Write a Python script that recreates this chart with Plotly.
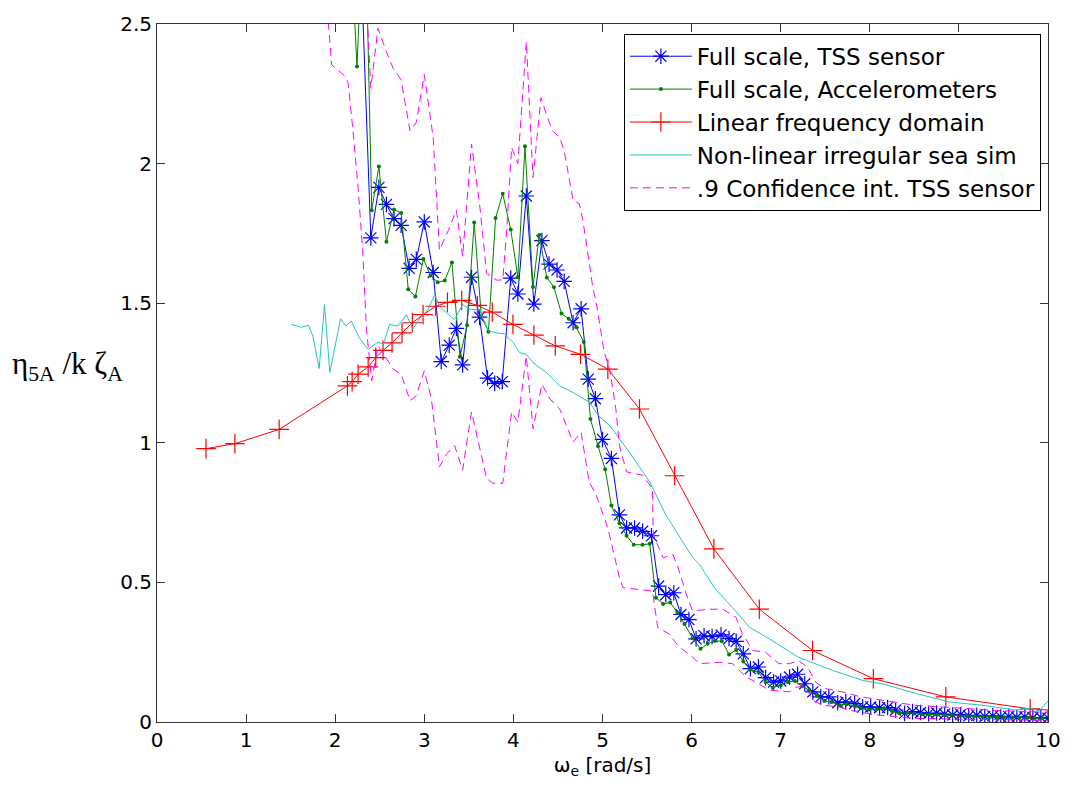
import plotly.graph_objects as go

# ---------------- data ----------------
tss_x = [2.14, 2.22, 2.30, 2.40, 2.49, 2.575, 2.66, 2.74, 2.83, 2.91, 3.00, 3.10, 3.19, 3.28, 3.36,
         3.43, 3.53, 3.62, 3.71, 3.79, 3.875, 3.97, 4.05, 4.145, 4.23, 4.32, 4.40, 4.49, 4.57, 4.67,
         4.76, 4.84, 4.92, 5.00, 5.10, 5.19, 5.27, 5.36, 5.45, 5.55, 5.63, 5.71, 5.80, 5.88, 5.97,
         6.05, 6.14, 6.23, 6.33, 6.42, 6.50, 6.58, 6.66, 6.75, 6.83, 6.92, 7.00, 7.10, 7.19, 7.27,
         7.36, 7.45, 7.54, 7.64, 7.73, 7.83, 7.92, 8.01, 8.11, 8.20, 8.29, 8.39, 8.48, 8.57, 8.66,
         8.75, 8.84, 8.93, 9.02, 9.11, 9.20, 9.29, 9.38, 9.47, 9.56, 9.65, 9.74, 9.83, 9.92, 10.0]
tss_y = [3.20, 3.00, 2.62, 1.734, 1.915, 1.854, 1.803, 1.779, 1.625, 1.657, 1.791, 1.610, 1.291, 1.350, 1.410,
         1.279, 1.593, 1.450, 1.232, 1.213, 1.219, 1.590, 1.533, 1.884, 1.497, 1.724, 1.640, 1.619, 1.578, 1.430,
         1.480, 1.228, 1.158, 1.012, 0.944, 0.742, 0.695, 0.695, 0.683, 0.667, 0.487, 0.456, 0.463, 0.385, 0.367,
         0.298, 0.309, 0.306, 0.312, 0.299, 0.289, 0.244, 0.191, 0.197, 0.159, 0.143, 0.147, 0.161, 0.171, 0.137,
         0.108, 0.090, 0.090, 0.069, 0.072, 0.066, 0.054, 0.054, 0.051, 0.052, 0.043, 0.031, 0.037, 0.034, 0.030,
         0.032, 0.028, 0.025, 0.027, 0.022, 0.024, 0.020, 0.022, 0.018, 0.020, 0.017, 0.018, 0.015, 0.016, 0.014]

acc_x = [2.14, 2.245, 2.33, 2.41, 2.49, 2.575, 2.66, 2.74, 2.82, 2.90, 2.99, 3.07, 3.15, 3.23, 3.31,
         3.40, 3.48, 3.56, 3.64, 3.72, 3.80, 3.88, 3.97, 4.05, 4.13, 4.22, 4.29, 4.375, 4.455, 4.54,
         4.62, 4.705, 4.79, 4.865, 4.95, 5.03, 5.10, 5.19, 5.27, 5.35, 5.45, 5.53, 5.60, 5.68, 5.76,
         5.84, 5.92, 6.01, 6.10, 6.18, 6.26, 6.34, 6.42, 6.50, 6.58, 6.66, 6.75, 6.83, 6.91, 7.00,
         7.08, 7.16, 7.24, 7.32, 7.41, 7.49, 7.57, 7.66, 7.74, 7.83, 7.91, 7.99, 8.08, 8.16, 8.25,
         8.33, 8.42, 8.50, 8.58, 8.67, 8.75, 8.84, 8.92, 9.00, 9.09, 9.17, 9.26, 9.34, 9.43, 9.51,
         9.60, 9.68, 9.77, 9.85, 9.94]
acc_y = [3.00, 2.348, 3.00, 1.833, 1.990, 1.720, 1.836, 1.823, 1.550, 1.524, 1.658, 1.599, 1.575, 1.581, 1.646,
         1.308, 1.421, 1.789, 1.453, 1.398, 1.805, 1.892, 1.764, 1.593, 2.062, 1.558, 1.744, 1.592, 1.557, 1.463,
         1.444, 1.414, 1.361, 1.085, 0.988, 0.905, 0.775, 0.712, 0.667, 0.635, 0.635, 0.638, 0.445, 0.423, 0.428,
         0.392, 0.351, 0.300, 0.262, 0.280, 0.290, 0.290, 0.242, 0.258, 0.217, 0.187, 0.179, 0.143, 0.123, 0.132,
         0.143, 0.147, 0.128, 0.114, 0.094, 0.076, 0.072, 0.060, 0.064, 0.057, 0.049, 0.045, 0.046, 0.049, 0.039,
         0.031, 0.033, 0.030, 0.028, 0.027, 0.026, 0.024, 0.023, 0.022, 0.021, 0.020, 0.019, 0.018, 0.017, 0.017,
         0.016, 0.015, 0.015, 0.014, 0.014]

lin_x = [0.55, 0.874, 1.371, 2.137, 2.19, 2.257, 2.37, 2.455, 2.537, 2.638, 2.75, 2.866, 2.986, 3.128,
         3.26, 3.42, 3.595, 3.763, 3.995, 4.23, 4.47, 4.753, 5.06, 5.415, 5.81, 6.25, 6.76, 7.358,
         8.04, 8.853, 9.80, 10.9]
lin_y = [0.979, 0.997, 1.048, 1.204, 1.219, 1.246, 1.272, 1.305, 1.331, 1.358, 1.394, 1.430, 1.459, 1.489,
         1.503, 1.510, 1.492, 1.468, 1.424, 1.386, 1.347, 1.317, 1.264, 1.121, 0.882, 0.620, 0.404, 0.256,
         0.155, 0.090, 0.047, 0.025]

nl_x = [1.51, 1.62, 1.70, 1.75, 1.82, 1.88, 1.94, 2.06, 2.12, 2.18, 2.27, 2.37, 2.48, 2.54, 2.61,
        2.705, 2.80, 2.87, 2.95, 3.04, 3.117, 3.17, 3.25, 3.34, 3.43, 3.51, 3.62, 3.72, 3.81, 3.90,
        4.00, 4.07, 4.145, 4.22, 4.37, 4.52, 4.67, 4.855, 4.95, 5.08, 5.30, 5.53, 5.71, 5.90, 6.01,
        6.09, 6.27, 6.46, 6.65, 6.87, 7.20, 7.58, 7.92, 8.14, 8.52, 8.89, 9.26, 9.64, 9.80, 9.90, 10.0]
nl_y = [1.424, 1.414, 1.421, 1.382, 1.266, 1.495, 1.252, 1.444, 1.418, 1.436, 1.376, 1.335, 1.361, 1.352, 1.424,
        1.418, 1.459, 1.406, 1.447, 1.477, 1.530, 1.489, 1.465, 1.441, 1.495, 1.479, 1.475, 1.400, 1.394, 1.390,
        1.358, 1.323, 1.317, 1.287, 1.252, 1.204, 1.180, 1.145, 1.098, 1.062, 0.967, 0.860, 0.742, 0.647, 0.590,
        0.564, 0.475, 0.410, 0.339, 0.298, 0.232, 0.185, 0.149, 0.137, 0.102, 0.072, 0.060, 0.043, 0.050, 0.040, 0.075]

ub_x = [2.30, 2.40, 2.48, 2.575, 2.65, 2.705, 2.74, 2.84, 2.91, 3.00, 3.10, 3.17, 3.27, 3.36, 3.43,
        3.53, 3.62, 3.70, 3.81, 3.88, 3.92, 3.98, 4.05, 4.145, 4.22, 4.31, 4.37, 4.44, 4.52, 4.57,
        4.67, 4.74, 4.78, 4.89, 4.93, 5.02, 5.08, 5.15, 5.19, 5.27, 5.45, 5.56, 5.57, 5.68, 5.79,
        5.85, 5.94, 6.01, 6.20, 6.35, 6.50, 6.57, 6.69, 6.83, 6.98, 7.10, 7.20, 7.30, 7.40, 7.50,
        7.70, 7.90, 8.20, 8.50, 9.00, 9.50, 10.0]
ub_y = [2.90, 2.27, 2.485, 2.40, 2.342, 2.319, 2.300, 2.117, 2.147, 2.319, 2.093, 1.690, 1.761, 1.833, 1.667,
        2.070, 1.856, 1.607, 1.583, 1.583, 1.738, 2.058, 2.000, 2.437, 1.950, 2.236, 2.176, 2.117, 2.093, 2.046,
        1.868, 1.856, 1.797, 1.560, 1.501, 1.323, 1.264, 1.121, 0.991, 0.896, 0.884, 0.837, 0.671, 0.588, 0.600,
        0.552, 0.458, 0.398, 0.404, 0.404, 0.374, 0.315, 0.256, 0.250, 0.209, 0.209, 0.220, 0.197, 0.140, 0.120,
        0.107, 0.090, 0.075, 0.060, 0.050, 0.040, 0.035]

lb_x = [1.90, 1.96, 2.11, 2.145, 2.20, 2.257, 2.31, 2.35, 2.41, 2.48, 2.58, 2.65, 2.74, 2.84, 2.91,
        3.00, 3.08, 3.17, 3.25, 3.34, 3.43, 3.53, 3.70, 3.77, 3.88, 3.98, 4.05, 4.145, 4.22, 4.32,
        4.41, 4.52, 4.67, 4.76, 4.85, 4.93, 5.06, 5.19, 5.23, 5.415, 5.56, 5.62, 5.75, 5.86, 5.97,
        6.09, 6.31, 6.46, 6.61, 6.72, 6.87, 7.10, 7.17, 7.25, 7.32, 7.36, 7.47, 7.66, 7.84, 8.10,
        8.48, 9.00, 9.50, 10.0]
lb_y = [2.60, 2.354, 2.313, 2.289, 2.117, 1.915, 1.679, 1.410, 1.222, 1.347, 1.300, 1.264, 1.246, 1.151, 1.169,
        1.258, 1.157, 0.914, 0.960, 0.990, 0.902, 1.110, 0.872, 0.855, 0.855, 1.110, 1.074, 1.311, 1.050, 1.210,
        1.157, 1.121, 1.003, 1.038, 0.860, 0.813, 0.695, 0.517, 0.481, 0.475, 0.469, 0.339, 0.315, 0.268, 0.244,
        0.209, 0.214, 0.209, 0.161, 0.143, 0.114, 0.108, 0.125, 0.126, 0.102, 0.078, 0.060, 0.054, 0.037, 0.025,
        0.013, 0.010, 0.008, 0.006]

x_ticks = [0, 1, 2, 3, 4, 5, 6, 7, 8, 9, 10]
y_ticks = [0, 0.5, 1, 1.5, 2, 2.5]
y_tick_text = ["0", "0.5", "1", "1.5", "2", "2.5"]

# ---------------- figure ----------------
SANS = "DejaVu Sans, Liberation Sans, Arial, sans-serif"
SERIF = "Liberation Serif, Times New Roman, serif"

fig = go.Figure()

fig.add_trace(go.Scatter(
    x=tss_x, y=tss_y, mode="lines+markers", name="Full scale, TSS sensor",
    line=dict(color="#0000ff", width=1),
    marker=dict(symbol="asterisk-open", size=13, color="#0000ff", line=dict(color="#0000ff", width=1.2))))

fig.add_trace(go.Scatter(
    x=acc_x, y=acc_y, mode="lines+markers", name="Full scale, Accelerometers",
    line=dict(color="#008000", width=1),
    marker=dict(symbol="circle", size=4, color="#008000")))

fig.add_trace(go.Scatter(
    x=lin_x, y=lin_y, mode="lines+markers", name="Linear frequency domain",
    line=dict(color="#ff0000", width=1),
    marker=dict(symbol="cross-thin-open", size=14, color="#ff0000", line=dict(color="#ff0000", width=1.2))))

fig.add_trace(go.Scatter(
    x=nl_x, y=nl_y, mode="lines", name="Non-linear irregular sea sim",
    line=dict(color="#22c4c4", width=1)))

fig.add_trace(go.Scatter(
    x=ub_x, y=ub_y, mode="lines", name=".9 Confidence int. TSS sensor",
    legendgroup="ci",
    line=dict(color="#ff00ff", width=1, dash="8px,5px")))

fig.add_trace(go.Scatter(
    x=lb_x, y=lb_y, mode="lines", name=".9 Confidence int. TSS sensor",
    legendgroup="ci", showlegend=False,
    line=dict(color="#ff00ff", width=1, dash="8px,5px")))

axis_common = dict(
    showgrid=False, zeroline=False, showline=True, linecolor="#333333", linewidth=1,
    mirror="ticks", ticks="inside", ticklen=8, tickcolor="#333333",
    tickfont=dict(family=SANS, size=20, color="black"))

fig.update_xaxes(range=[0, 10], tickvals=x_ticks, **axis_common,
                 title=dict(text="ω<sub>e</sub> [rad/s]", font=dict(family=SANS, size=20, color="black"),
                            standoff=6))
fig.update_yaxes(range=[0, 2.5], tickvals=y_ticks, ticktext=y_tick_text, **axis_common)

fig.add_annotation(
    xref="paper", yref="paper", x=0, y=0.51, xanchor="right", yanchor="middle", xshift=-32,
    text="η<sub>5A</sub> /k ζ<sub>A</sub>", showarrow=False,
    font=dict(family=SERIF, size=31, color="black"))

fig.update_layout(
    width=1073, height=799,
    margin=dict(l=157, r=23, t=19, b=77),
    paper_bgcolor="white", plot_bgcolor="white",
    showlegend=True,
    legend=dict(x=0.992, y=0.986, xanchor="right", yanchor="top",
                bgcolor="white", bordercolor="black", borderwidth=1,
                font=dict(family=SANS, size=23, color="black"),
                tracegroupgap=0, itemwidth=62))

fig.write_html("out.html")
